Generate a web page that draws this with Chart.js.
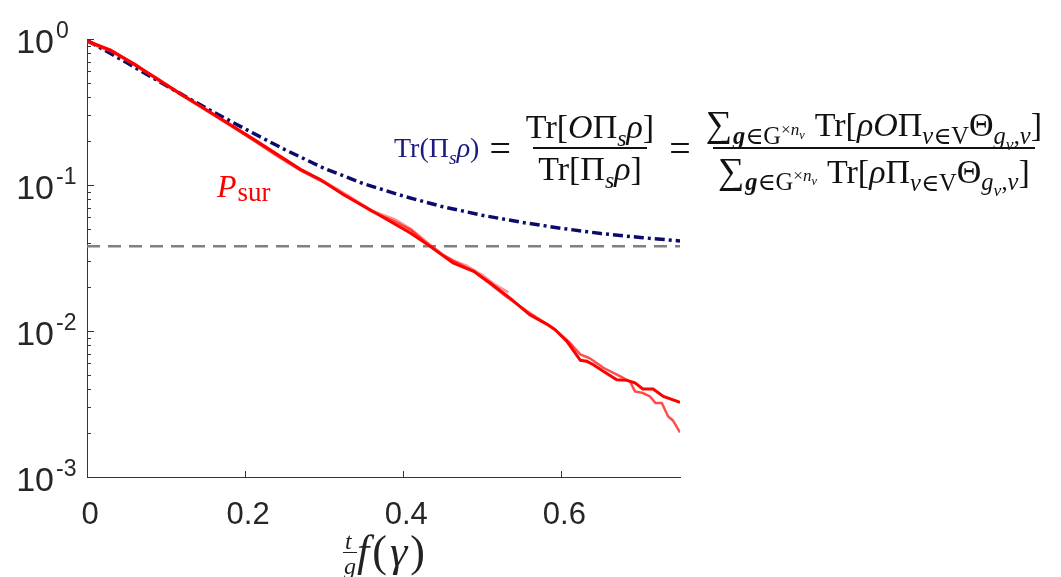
<!DOCTYPE html>
<html>
<head>
<meta charset="utf-8">
<script src="https://cdn.jsdelivr.net/npm/chart.js@4.4.1/dist/chart.umd.min.js"></script>
<style>
body { margin: 0; background: #fff; }
#wrap { position: relative; width: 1061px; height: 577px; overflow: hidden; }
.tex { position: absolute; font-family: "Liberation Serif", "DejaVu Serif", serif; white-space: nowrap; line-height: 1; }
.tex sub, .tex sup { line-height: 0; }
#psur { left: 217px; top: 170px; color: #ff0000; font-size: 32px; }
#psur .s { font-size: 27px; position: relative; top: 4px; margin-left: 1px; }
#eq { left: 394px; top: 105px; display: flex; align-items: center; font-size: 34px; color: #111; }
#eq .lhs { color: #1a1a80; font-size: 28px; }
#eq .op { margin: 0 10px; font-size: 38px; }
.frac { display: inline-flex; flex-direction: column; align-items: center; }
.frac > span { padding: 0 5px; }
.frac .den { border-top: 2px solid #111; padding-top: 3px; }
.frac .num { padding-bottom: 3px; }
.f2 { font-size: 34px; }
.f2 sub { font-size: 0.72em; }
.sum { font-size: 37px; margin-right: 1px; }
.gap { display: inline-block; width: 10px; }
sub { font-size: 0.7em; }
sup { font-size: 0.7em; }
#xt { left: 357px; top: 530px; font-size: 44px; color: #222; letter-spacing: 3px; }
.xfr { position: absolute; font-family: "Liberation Serif", serif; font-style: italic; font-size: 24px; color: #222; line-height: 1; }
#xbar { position: absolute; left: 343px; top: 552px; width: 14px; height: 1px; background: #222; }
</style>
</head>
<body>
<div id="wrap">
<canvas id="chart" width="1061" height="577"></canvas>
<div id="psur" class="tex"><i>P</i><span class="s">sur</span></div>
<div id="eq" class="tex">
  <span class="lhs">Tr(Π<sub><i>s</i></sub><i>ρ</i>)</span>
  <span class="op">=</span>
  <span class="frac"><span class="num">Tr[<i>O</i>Π<sub><i>s</i></sub><i>ρ</i>]</span><span class="den">Tr[Π<sub><i>s</i></sub><i>ρ</i>]</span></span>
  <span class="op">=</span>
  <span class="frac f2"><span class="num"><span class="sum">∑</span><sub><b><i>g</i></b>∈G<sup>×<i>n</i><sub><i>v</i></sub></sup></sub><span class="gap"></span>Tr[<i>ρO</i>Π<sub><i>v</i>∈V</sub>Θ<sub><i>g</i><sub><i>v</i></sub>,<i>v</i></sub>]</span><span class="den"><span class="sum">∑</span><sub><b><i>g</i></b>∈G<sup>×<i>n</i><sub><i>v</i></sub></sup></sub><span class="gap"></span>Tr[<i>ρ</i>Π<sub><i>v</i>∈V</sub>Θ<sub><i>g</i><sub><i>v</i></sub>,<i>v</i></sub>]</span></span>
</div>
<div class="xfr" style="left:345px;top:529px;">t</div>
<div id="xbar"></div>
<div class="xfr" style="left:344px;top:554px;">g</div>
<div id="xt" class="tex"><i>f</i>(<i>γ</i>)</div>
</div>
<script>
// axis ticks
const xTicks = [0, 0.2, 0.4, 0.6];
const yTicks = [0.001, 0.01, 0.1, 1];
const yExp = ['-3', '-2', '-1', '0'];

// main red curve
const redX1 = [0, 0.03, 0.06, 0.09, 0.12, 0.15, 0.18, 0.21, 0.24, 0.27, 0.295, 0.324, 0.354, 0.387, 0.409, 0.434, 0.463, 0.489, 0.51, 0.535, 0.56, 0.582, 0.592, 0.607, 0.624, 0.632, 0.64, 0.653, 0.67, 0.683, 0.693, 0.703, 0.716, 0.729, 0.75];
const redY1 = [0.97, 0.84, 0.67, 0.53, 0.415, 0.33, 0.262, 0.207, 0.163, 0.128, 0.109, 0.086, 0.0696, 0.0549, 0.0469, 0.038, 0.0292, 0.0256, 0.0213, 0.0168, 0.0129, 0.0111, 0.0102, 0.0085, 0.0063, 0.0062, 0.0059, 0.0053, 0.00464, 0.00459, 0.00441, 0.00401, 0.00401, 0.00356, 0.00324];
// second red curve (lighter)
const redX2 = [0, 0.03, 0.06, 0.09, 0.12, 0.15, 0.18, 0.21, 0.24, 0.27, 0.3, 0.33, 0.36, 0.39, 0.41, 0.434, 0.45, 0.47, 0.49, 0.51, 0.53, 0.56, 0.59, 0.61, 0.624, 0.636, 0.653, 0.674, 0.687, 0.693, 0.703, 0.712, 0.719, 0.727, 0.735, 0.741, 0.75];
const redY2 = [0.96, 0.83, 0.68, 0.52, 0.41, 0.325, 0.258, 0.204, 0.16, 0.126, 0.104, 0.083, 0.066, 0.056, 0.049, 0.038, 0.033, 0.029, 0.0255, 0.021, 0.0172, 0.0133, 0.0104, 0.0084, 0.0069, 0.0065, 0.0056, 0.0049, 0.0045, 0.00386, 0.00376, 0.00356, 0.00321, 0.00321, 0.0026, 0.00244, 0.00202];
// third red curve (lightest, shorter)
const redX3 = [0, 0.03, 0.06, 0.09, 0.12, 0.15, 0.18, 0.21, 0.24, 0.27, 0.3, 0.33, 0.36, 0.39, 0.41, 0.434, 0.45, 0.463, 0.48, 0.5, 0.515, 0.533];
const redY3 = [0.95, 0.82, 0.66, 0.525, 0.42, 0.33, 0.26, 0.203, 0.158, 0.127, 0.106, 0.085, 0.067, 0.058, 0.05, 0.039, 0.0335, 0.0305, 0.028, 0.0242, 0.021, 0.0184];
// Tr(Pi_s rho), blue dash-dot
const blueX = [0, 0.05, 0.1, 0.15, 0.2, 0.25, 0.3, 0.35, 0.4, 0.45, 0.5, 0.55, 0.6, 0.65, 0.7, 0.75];
const blueY = [0.98, 0.69, 0.48, 0.338, 0.242, 0.175, 0.13, 0.102, 0.084, 0.071, 0.062, 0.0555, 0.0505, 0.0465, 0.0437, 0.0414];
// gray reference level
const refX = [0, 0.75];
const refY = [0.038, 0.038];

const pts = (xs, ys) => xs.map((x, i) => ({ x: x, y: ys[i] }));
const axisColor = '#333';

const decor = {
  id: 'decor',
  afterDraw(chart) {
    const { ctx, chartArea: a, scales: { x, y } } = chart;
    ctx.save();
    ctx.strokeStyle = axisColor;
    ctx.lineWidth = 1;
    ctx.beginPath();
    xTicks.forEach(v => {
      const px = Math.round(x.getPixelForValue(v)) + 0.5;
      ctx.moveTo(px, a.bottom);
      ctx.lineTo(px, a.bottom - 6);
    });
    for (let d = -3; d <= 0; d++) {
      for (let k = 1; k <= 9; k++) {
        const v = k * Math.pow(10, d);
        if (v > 1.0001) break;
        const py = Math.round(y.getPixelForValue(v)) + 0.5;
        ctx.moveTo(a.left, py);
        ctx.lineTo(a.left + (k === 1 ? 7 : 4), py);
      }
    }
    ctx.stroke();
    ctx.fillStyle = '#262626';
    yTicks.forEach((v, i) => {
      const py = y.getPixelForValue(v);
      ctx.font = '34px "Liberation Sans", Arial, sans-serif';
      ctx.textAlign = 'right';
      ctx.textBaseline = 'alphabetic';
      ctx.fillText('10', 54, py + 14);
      ctx.font = '23px "Liberation Sans", Arial, sans-serif';
      ctx.textAlign = 'left';
      ctx.fillText(yExp[i], 56, py - 1);
    });
    ctx.restore();
  }
};

new Chart(document.getElementById('chart'), {
  type: 'line',
  data: {
    datasets: [
      { data: pts(redX1, redY1), borderColor: '#ff0000', borderWidth: 3, order: 0 },
      { data: pts(redX2, redY2), borderColor: 'rgba(255,0,0,0.7)', borderWidth: 2.5, order: 1 },
      { data: pts(redX3, redY3), borderColor: 'rgba(255,40,40,0.5)', borderWidth: 2.5, order: 2 },
      { data: pts(blueX, blueY), borderColor: '#0b0b6b', borderWidth: 3.5, borderDash: [10, 4, 3, 4], order: 3 },
      { data: pts(refX, refY), borderColor: '#808080', borderWidth: 2.5, borderDash: [13, 8], order: 4 }
    ]
  },
  options: {
    responsive: false,
    animation: false,
    layout: { padding: { left: 87, right: 381, top: 39, bottom: 0 } },
    elements: { point: { radius: 0 }, line: { tension: 0, fill: false } },
    plugins: { legend: { display: false }, tooltip: { enabled: false } },
    scales: {
      x: {
        type: 'linear', min: 0, max: 0.75,
        grid: { display: false },
        border: { display: true, color: axisColor, width: 1 },
        afterBuildTicks: s => { s.ticks = xTicks.map(v => ({ value: v })); },
        afterFit: s => { s.height = 100; },
        ticks: {
          padding: 12, labelOffset: 3, color: '#262626',
          font: { family: '"Liberation Sans", Arial, sans-serif', size: 31 },
          callback: v => String(v)
        }
      },
      y: {
        type: 'logarithmic', min: 0.001, max: 1,
        grid: { display: false },
        border: { display: true, color: axisColor, width: 1 },
        afterBuildTicks: s => { s.ticks = yTicks.map(v => ({ value: v })); },
        afterFit: s => { s.width = 0; },
        ticks: { display: false }
      }
    }
  },
  plugins: [decor]
});
</script>
</body>
</html>
